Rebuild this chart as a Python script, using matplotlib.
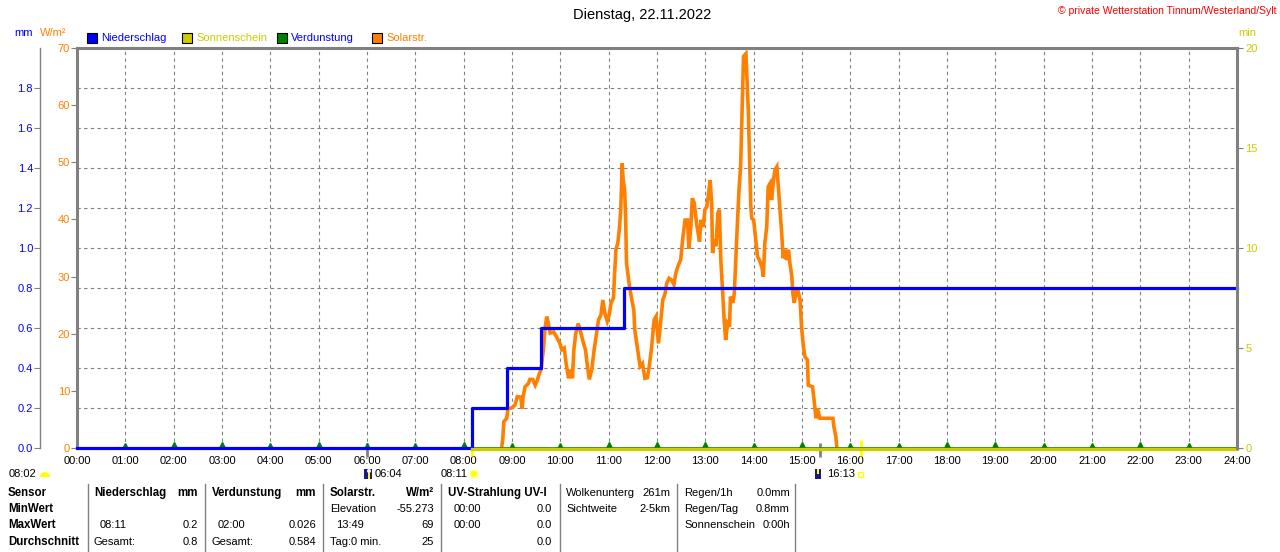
import numpy as np
import matplotlib
matplotlib.use('Agg')
import matplotlib.pyplot as plt
from matplotlib.ticker import MultipleLocator, FixedLocator, FormatStrFormatter
from matplotlib.patches import Rectangle, Wedge, Circle
from matplotlib.lines import Line2D
from matplotlib.transforms import IdentityTransform, ScaledTranslation

plt.rcParams['font.family'] = ['Liberation Sans', 'DejaVu Sans']
plt.rcParams['font.size'] = 8

W, H = 1280, 552

# Niederschlag (mm, Tagessumme)
rain_t = [0.0, 8.18, 8.89, 9.61, 11.32, 24.0]
rain_mm = [0.0, 0.2, 0.4, 0.6, 0.8, 0.8]

# Verdunstung pro Stunde (mm)
evap_h = list(range(1, 24))
evap_mm = [0.025, 0.026, 0.026, 0.025, 0.026, 0.025, 0.025, 0.026, 0.025, 0.025, 0.026, 0.026,
           0.026, 0.025, 0.026, 0.025, 0.025, 0.026, 0.026, 0.025, 0.025, 0.026, 0.025]

# Sonnenschein (min)
sun_t = [8.18, 24.0]
sun_min = [0, 0]

# Solarstrahlung (W/m2)
solar_t = [8.79, 8.81, 8.83, 8.89, 8.92, 8.99, 9.06, 9.11, 9.18, 9.21, 9.23, 9.27, 9.34, 9.37,
           9.43, 9.48, 9.52, 9.57, 9.60, 9.65, 9.68, 9.72, 9.75, 9.79, 9.86, 9.92, 9.99, 10.03,
           10.08, 10.12, 10.17, 10.21, 10.25, 10.28, 10.32, 10.37, 10.42, 10.48, 10.52, 10.57,
           10.60, 10.65, 10.70, 10.74, 10.79, 10.84, 10.88, 10.92, 10.97, 11.01, 11.05, 11.10,
           11.12, 11.15, 11.19, 11.22, 11.25, 11.28, 11.30, 11.33, 11.35, 11.37, 11.43, 11.48,
           11.52, 11.54, 11.58, 11.61, 11.65, 11.70, 11.75, 11.80, 11.84, 11.89, 11.94, 11.98,
           12.03, 12.08, 12.12, 12.17, 12.20, 12.25, 12.30, 12.35, 12.39, 12.44, 12.49, 12.53,
           12.58, 12.63, 12.66, 12.70, 12.73, 12.77, 12.81, 12.83, 12.88, 12.91, 12.96, 12.99,
           13.03, 13.06, 13.10, 13.13, 13.15, 13.18, 13.22, 13.26, 13.29, 13.32, 13.36, 13.39,
           13.42, 13.46, 13.50, 13.52, 13.57, 13.60, 13.63, 13.66, 13.70, 13.73, 13.75, 13.79,
           13.84, 13.87, 13.89, 13.91, 13.94, 13.96, 14.00, 14.05, 14.08, 14.12, 14.17, 14.20,
           14.23, 14.27, 14.30, 14.34, 14.37, 14.41, 14.44, 14.48, 14.51, 14.54, 14.58, 14.61,
           14.65, 14.68, 14.72, 14.75, 14.79, 14.81, 14.84, 14.88, 14.92, 14.96, 14.99, 15.03,
           15.06, 15.11, 15.13, 15.22, 15.25, 15.29, 15.32, 15.37, 15.64, 15.66, 15.70, 15.72]
solar_w = [0.3, 1.7, 4.6, 5.2, 6.9, 7.0, 7.5, 9.0, 8.9, 6.9, 9.0, 10.7, 11.3, 12.0,
           12.0, 11.0, 11.8, 13.1, 13.7, 17.2, 20.7, 23.0, 21.9, 20.1, 20.3, 19.5, 18.3, 17.2,
           17.5, 14.8, 12.2, 13.7, 12.2, 17.2, 20.1, 21.8, 20.3, 18.3, 17.2, 13.7,
           12.0, 13.7, 17.2, 19.5, 22.4, 23.3, 25.9, 23.6, 22.2, 23.3, 25.4, 26.3,
           30.0, 34.7, 35.9, 38.2, 41.7, 49.8, 46.9, 45.2, 40.6, 32.3, 28.3, 25.9,
           24.2, 20.7, 18.3, 16.6, 14.3, 14.8, 12.2, 12.3, 14.3, 17.7, 22.4, 23.0,
           18.3, 22.4, 25.9, 27.1, 28.8, 29.7, 29.4, 28.6, 30.6, 32.0, 32.9, 36.4,
           39.9, 39.9, 34.9, 38.7, 43.7, 42.9, 39.9, 38.7, 36.1, 39.9, 38.7, 41.7,
           42.2, 44.0, 46.9, 42.9, 34.1, 36.4, 35.3, 41.1, 41.7, 32.9, 27.1, 22.4,
           18.9, 21.8, 21.2, 26.5, 25.4, 27.1, 32.9, 38.7, 45.7, 49.2, 55.7, 68.5,
           69.0, 63.2, 58.9, 52.2, 42.5, 40.2, 39.9, 35.8, 33.5, 32.9, 31.7, 30.0,
           35.8, 38.7, 45.7, 46.3, 43.4, 46.9, 48.6, 49.2, 45.7, 42.2, 37.6, 33.2,
           34.7, 32.9, 34.7, 32.3, 30.0, 27.1, 25.4, 27.4, 27.4, 25.9, 21.2, 17.7,
           16.0, 15.4, 11.0, 10.7, 8.4, 5.2, 6.9, 5.2, 5.2, 3.7, 2.0, 0.2]

hour_labels = ['%02d:00' % h for h in range(25)]
twilight_t = [6.0, 15.38]
sunrise_t, sunset_t = 8.18, 16.22

# Tabelle unten
row_names = ['Sensor', 'MinWert', 'MaxWert', 'Durchschnitt']
table_cols = [
    (94, 198, 'Niederschlag', 'mm', [('', ''), ('08:11', '0.2'), ('Gesamt:', '0.8')]),
    (212, 316, 'Verdunstung', 'mm', [('', ''), ('02:00', '0.026'), ('Gesamt:', '0.584')]),
    (330, 434, 'Solarstr.', 'W/m²', [('Elevation', '-55.273'), ('13:49', '69'), ('Tag:0 min.', '25')]),
    (448, 552, 'UV-Strahlung UV-I', '', [('00:00', '0.0'), ('00:00', '0.0'), ('', '0.0')]),
]
info_cols = [
    (566, 670, [('Wolkenunterg', '261m'), ('Sichtweite', '2-5km')]),
    (684, 790, [('Regen/1h', '0.0mm'), ('Regen/Tag', '0.8mm'), ('Sonnenschein', '0:00h')]),
]
sep_x = [88, 205, 323, 441, 560, 677, 795]

BLUE = '#0000ff'
ORANGE = '#ff8000'
YELLOW = '#cccc00'
GREEN = '#008000'
GRAY = '#808080'

fig = plt.figure(figsize=(W / 100, H / 100), dpi=100)
left, right, top, bottom = 77, 1237, 48, 448
ax = fig.add_axes([left / W, 1 - bottom / H, (right - left) / W, (bottom - top) / H])


def fx(x):
    return x / W


def fy(y):
    return 1 - y / H


# Solar on main axis
ax.plot(solar_t, solar_w, color=ORANGE, lw=2.6, zorder=3, solid_joinstyle='miter')
ax.set_xlim(0, 24)
ax.set_ylim(0, 70)
ax.set_xticks(range(25))
ax.set_xticklabels(hour_labels)
ax.tick_params(axis='x', length=0, pad=6, labelsize=8, colors='black')
ax.yaxis.set_major_locator(MultipleLocator(10))
ax.yaxis.set_minor_locator(MultipleLocator(7))
ax.tick_params(axis='y', which='major', length=4, color=GRAY, labelcolor=ORANGE, pad=1, labelsize=8)
ax.tick_params(axis='y', which='minor', length=0)
ax.grid(axis='x', which='major', color=GRAY, ls=(0, (3, 3)), lw=0.8)
ax.grid(axis='y', which='minor', color=GRAY, ls=(0, (3, 3)), lw=0.8)
for s in ['top', 'left']:
    ax.spines[s].set_color(GRAY)
    ax.spines[s].set_linewidth(2.2)
ax.spines['right'].set_visible(False)
ax.spines['bottom'].set_visible(False)

# Niederschlag / Verdunstung on mm axis
ax_mm = ax.twinx()
ax_mm.set_ylim(0, 2.0)
ax_mm.yaxis.set_ticks_position('left')
ax_mm.yaxis.set_label_position('left')
ax_mm.spines['left'].set_position(('axes', -37 / (right - left)))
ax_mm.spines['left'].set_color(GRAY)
ax_mm.spines['left'].set_linewidth(1.0)
for s in ['top', 'right', 'bottom']:
    ax_mm.spines[s].set_visible(False)
ax_mm.yaxis.set_major_locator(FixedLocator(np.arange(0, 1.9, 0.2)))
ax_mm.yaxis.set_major_formatter(FormatStrFormatter('%.1f'))
ax_mm.tick_params(axis='y', length=4, color=GRAY, labelcolor=BLUE, pad=1, labelsize=8)

# Sonnenschein on min axis
ax_min = ax.twinx()
ax_min.set_ylim(0, 20)
ax_min.set_yticks([0, 5, 10, 15, 20])
ax_min.tick_params(axis='y', length=4, color=GRAY, labelcolor=YELLOW, pad=2, labelsize=8)
ax_min.spines['right'].set_color(GRAY)
ax_min.spines['right'].set_linewidth(2.2)
for s in ['top', 'left', 'bottom']:
    ax_min.spines[s].set_visible(False)

ax_min.plot(sun_t, sun_min, color=YELLOW, lw=2.4, zorder=2, clip_on=False,
            transform=ax_min.transData + ScaledTranslation(0, -1.2 / 100, fig.dpi_scale_trans))
ax_mm.plot([0, 24], [0, 0], color=GREEN, lw=1.2, zorder=2, clip_on=False)
ax_mm.plot(evap_h, [v / 2 for v in evap_mm], ls='none', marker='^', markersize=4.2,
           color=GREEN, zorder=2)
ax_mm.plot(rain_t, rain_mm, drawstyle='steps-post', color=BLUE, lw=2.3, zorder=4, clip_on=False)

# sunrise / sunset and twilight markers
xt = ax.get_xaxis_transform()
ax.vlines(twilight_t, -0.022, 0.012, color=GRAY, lw=2, transform=xt, clip_on=False)
ax.vlines([sunrise_t], -0.02, 0.0, color='#ffff00', lw=2, transform=xt, clip_on=False)
ax.vlines([sunset_t], -0.02, 0.02, color='#ffff00', lw=2, transform=xt, clip_on=False)

# top texts
fig.text(fx(642), fy(15), 'Dienstag, 22.11.2022', ha='center', va='center', fontsize=10.5)
fig.text(fx(1276), fy(11), '© private Wetterstation Tinnum/Westerland/Sylt', ha='right', va='center',
         color='#ff0000', fontsize=7.5)
fig.text(fx(14), fy(33), 'mm', color=BLUE, va='center', fontsize=8)
fig.text(fx(40), fy(33), 'W/m²', color=ORANGE, va='center', fontsize=8)
fig.text(fx(1238), fy(33), 'min', color=YELLOW, va='center', fontsize=8)

legend_items = [('Niederschlag', BLUE, BLUE, 87), ('Sonnenschein', YELLOW, YELLOW, 182),
                ('Verdunstung', GREEN, BLUE, 277), ('Solarstr.', ORANGE, ORANGE, 372)]
idt = IdentityTransform()
for name, fc, tc, x0 in legend_items:
    fig.add_artist(Rectangle((x0, H - 43), 10, 10, facecolor=fc, edgecolor='black', lw=0.8, transform=idt))
    fig.text(fx(x0 + 14), fy(38), name, color=tc, va='center', fontsize=8)

# sun icons / times below axis
fig.text(fx(9), fy(474), '08:02', va='center', fontsize=8)
fig.add_artist(Wedge((45, H - 477), 5, 0, 180, facecolor='#ffff00', edgecolor='none', transform=idt))
fig.add_artist(Rectangle((364, H - 479), 8, 10, facecolor='#1a1a80', edgecolor='none', transform=idt))
fig.add_artist(Circle((369, H - 471), 2, facecolor='white', edgecolor='none', transform=idt))
fig.add_artist(Rectangle((367.5, H - 479), 2.5, 6, facecolor='#ffff00', edgecolor='none', transform=idt))
fig.text(fx(375), fy(474), '06:04', va='center', fontsize=8)
fig.text(fx(441), fy(474), '08:11', va='center', fontsize=8)
fig.add_artist(Circle((474, H - 474), 5, facecolor='#ffffb0', edgecolor='none', transform=idt))
fig.add_artist(Circle((474, H - 474), 3.2, facecolor='#ffff00', edgecolor='none', transform=idt))
fig.add_artist(Rectangle((815, H - 479), 6, 10, facecolor='#1a1a80', edgecolor='none', transform=idt))
fig.add_artist(Rectangle((816.5, H - 474), 2.5, 5, facecolor='#ffff00', edgecolor='none', transform=idt))
fig.text(fx(827), fy(474), '16:13', va='center', fontsize=8)
fig.add_artist(Rectangle((858, H - 477), 5, 5, facecolor='none', edgecolor='#ffff00', lw=1, transform=idt))

# table
row_y = [493, 509, 525, 542]
for name, y in zip(row_names, row_y):
    fig.text(fx(8), fy(y), name, va='center', fontweight='bold', fontsize=8.3)
for xl, xr, head, unit, rows in table_cols:
    fig.text(fx(xl), fy(row_y[0]), head, va='center', fontweight='bold', fontsize=8.3)
    if unit:
        fig.text(fx(xr), fy(row_y[0]), unit, va='center', ha='right', fontweight='bold', fontsize=8.3)
    for (lt, rt), y in zip(rows, row_y[1:]):
        indent = 6 if ':' in lt and not lt.endswith(':') and 'min' not in lt else 0
        if lt:
            fig.text(fx(xl + indent), fy(y), lt, va='center', fontsize=8)
        if rt:
            fig.text(fx(xr), fy(y), rt, va='center', ha='right', fontsize=8)
for xl, xr, rows in info_cols:
    for (lt, rt), y in zip(rows, row_y):
        fig.text(fx(xl), fy(y), lt, va='center', fontsize=8)
        fig.text(fx(xr), fy(y), rt, va='center', ha='right', fontsize=8)
for x in sep_x:
    fig.add_artist(Line2D([x, x], [0, H - 484], color=GRAY, lw=1, transform=idt))

fig.savefig('out.png', dpi=100)
